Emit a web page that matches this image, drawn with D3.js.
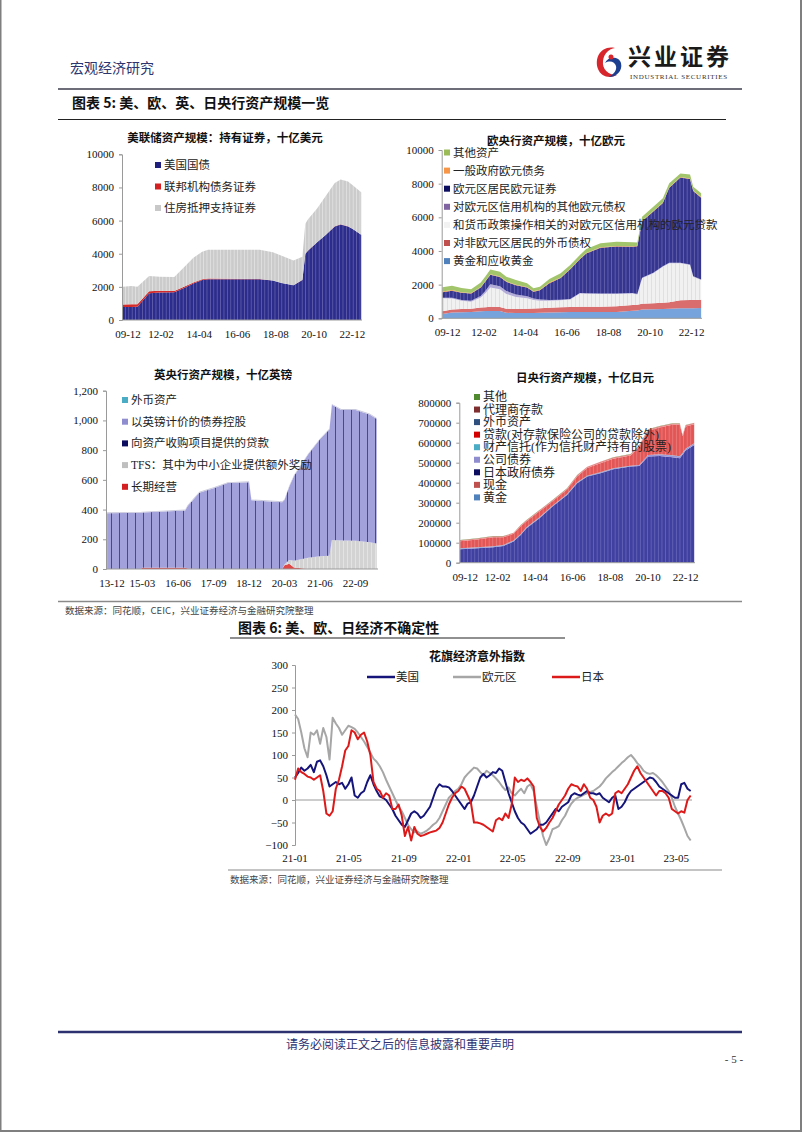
<!DOCTYPE html>
<html><head><meta charset="utf-8">
<script src="https://cdn.jsdelivr.net/npm/d3@7/dist/d3.min.js"></script>
<style>html,body{margin:0;padding:0;background:#fff;} svg{display:block;}</style>
</head><body>
<svg id="page" width="802" height="1133" xmlns="http://www.w3.org/2000/svg"></svg>
<script>
// ================= DATA =================
// --- Fed (billion USD) ---
const fedDates = ["2009-12","2010-06","2010-10","2011-06","2012-01","2012-11","2013-06","2013-12","2014-06","2014-10","2017-09","2018-06","2018-12","2019-08","2020-02","2020-04","2020-06","2020-12","2021-06","2021-12","2022-04","2022-09","2022-12","2023-06"];
const fedTreasury = [780,780,800,1620,1660,1670,1950,2210,2420,2460,2465,2380,2230,2090,2420,4000,4200,4690,5150,5650,5770,5650,5500,5150];
const fedAgency = [160,165,150,115,100,80,70,57,45,40,5,2,2,2,2,2,2,2,2,2,2,2,2,2];
const fedMBS = [1070,1110,1050,920,850,850,1200,1490,1650,1740,1770,1700,1640,1500,1400,1800,1900,2040,2340,2620,2710,2700,2640,2560];
const fedTicks = [0,2000,4000,6000,8000,10000];
const monthlyLabels = ["09-12","12-02","14-04","16-06","18-08","20-10","22-12"];

// --- ECB (billion EUR) ---
const ecbDates = ["2009-12","2010-06","2010-12","2011-06","2011-12","2012-03","2012-06","2012-12","2013-04","2013-10","2014-05","2014-09","2015-01","2015-07","2016-02","2016-08","2017-02","2017-06","2018-03","2019-01","2019-11","2020-02","2020-05","2020-12","2021-06","2021-10","2022-05","2022-11","2023-01","2023-06"];
const ecbGold = [250,340,360,380,420,430,440,430,330,310,320,320,330,340,360,370,380,380,370,380,450,460,520,540,560,570,590,590,600,610];
const ecbFx = [170,190,200,190,220,230,240,240,240,240,250,260,270,280,290,300,310,310,320,330,340,340,340,350,370,380,480,490,490,490];
const ecbLending = [770,650,480,420,600,850,1150,1050,880,720,620,500,450,430,420,440,790,770,760,730,680,620,1520,1780,2140,2320,2200,2090,1385,1180];
const ecbOtherClaims = [30,40,50,50,90,130,200,180,170,150,120,100,60,40,30,30,30,30,30,30,30,30,30,30,30,30,30,30,30,30];
const ecbSecurities = [330,420,430,430,500,560,560,560,550,540,520,400,550,1000,1300,1770,2000,2360,2710,2800,2750,2830,3350,3650,3750,4450,5060,5080,5060,4860];
const ecbGovDebt = [35,35,35,35,35,30,30,30,30,30,30,30,30,30,30,30,30,30,30,30,30,30,30,30,30,30,30,30,30,30];
const ecbOtherAssets = [265,255,250,220,260,270,280,280,275,290,220,170,190,220,240,230,220,240,235,250,235,200,250,250,250,240,220,240,225,230];
const ecbTicks = [0,2000,4000,6000,8000,10000];

// --- BoE (billion GBP) ---
const boeDates = ["2013-12","2015-02","2015-03","2016-09","2016-10","2017-03","2017-09","2018-03","2018-12","2019-01","2020-02","2020-03","2020-05","2020-07","2021-01","2021-06","2021-10","2021-11","2022-03","2022-09","2022-12","2023-03","2023-06"];
const boeLongTerm = [0,0,8,8,3,0,0,0,0,0,0,25,35,10,0,0,0,0,0,0,0,0,0];
const boeTFS = [0,0,0,0,0,0,0,0,0,0,0,5,25,45,75,85,90,195,192,190,185,180,172];
const boeAPFLoan = [0,0,0,0,0,0,0,0,0,0,0,0,0,0,0,0,0,0,0,0,0,0,0];
const boeBonds = [376,378,372,386,420,514,544,578,584,462,450,434,494,571,697,788,850,910,878,880,870,860,838];
const boeFx = [6,6,6,6,6,6,6,6,6,6,6,6,6,6,6,6,6,6,6,6,6,6,6];
const boeTicks = [0,200,400,600,800,1000,1200];
const boeLabels = ["13-12","15-03","16-06","17-09","18-12","20-03","21-06","22-09"];

// --- BoJ (billion JPY) ---
const bojDates = ["2009-12","2010-12","2011-11","2012-06","2013-01","2013-06","2013-10","2014-07","2015-04","2016-02","2016-09","2017-04","2018-01","2018-10","2019-10","2020-04","2020-10","2021-06","2022-03","2022-08","2022-10","2022-12","2023-06"];
const bojGold = [441,441,441,441,441,441,441,441,441,441,441,441,441,441,441,441,441,441,441,441,441,441,441];
const bojCash = [250,250,250,250,250,250,250,250,250,250,250,250,250,250,250,250,250,250,250,250,250,250,250];
const bojJGB = [67000,72000,77000,83000,105000,138000,172000,222000,280000,338000,397000,430000,447000,467000,480000,483000,530000,533000,527000,522000,540000,560000,588000];
const bojCorp = [3000,3200,3400,3500,3600,3300,3200,3200,3200,3200,3200,3200,3200,3200,3200,4500,7500,7500,8500,8500,8200,8000,7900];
const bojTrust = [1500,1400,1400,1400,1400,1400,1400,1300,1300,1200,1100,1000,1000,900,800,700,600,500,500,500,500,500,500];
const bojLoans = [35200,39100,44900,38800,33600,38500,29600,29600,21600,22400,29300,38200,45900,48000,50900,91600,120700,133700,152700,157700,83000,111200,95300];
const bojFx = [5000,5000,5000,5000,5100,5500,5500,5600,5600,5900,6100,6300,6600,6600,6800,6900,6900,7000,7000,7000,7000,7000,7000];
const bojAgency = [100,100,100,100,100,100,100,100,100,100,100,100,100,100,100,100,100,100,100,100,100,100,100];
const bojOther = [500,500,500,500,500,500,500,500,500,500,500,500,500,500,500,500,500,500,500,500,500,500,500];
const bojTicks = [0,100000,200000,300000,400000,500000,600000,700000,800000];

// --- Citi Economic Surprise Index (weekly from 2021-01-01) ---
const citiStart = "2021-01-01";
const citiUS = [50,60,72,65,70,78,62,85,88,75,55,30,35,40,35,38,25,35,50,10,5,15,20,40,55,35,20,8,5,0,-10,-20,-35,-45,-55,-60,-45,-30,-25,-30,-40,-35,-25,-15,5,25,35,30,30,28,20,10,0,-10,-20,-8,-5,10,30,50,58,50,55,62,60,70,65,40,15,-5,-25,-40,-50,-55,-65,-75,-70,-65,-55,-55,-50,-40,-30,-20,-25,-15,-10,-5,10,15,12,10,15,20,15,15,12,15,5,0,-5,5,10,-20,-15,-5,10,20,25,30,35,40,45,50,48,40,30,25,20,15,10,5,5,35,38,25,20];
const citiEU = [190,180,150,115,95,150,145,155,125,160,140,90,183,170,160,145,155,165,162,158,150,140,130,118,105,92,85,75,62,45,30,15,0,-15,-25,-40,-55,-65,-72,-70,-75,-72,-68,-62,-55,-50,-40,-25,-10,5,12,20,25,35,50,58,65,72,70,62,55,65,60,55,48,40,30,22,28,15,10,18,25,15,30,35,20,-15,-50,-80,-100,-85,-65,-62,-58,-45,-35,-20,-8,0,5,8,12,15,18,20,25,30,38,48,55,62,68,75,82,88,95,100,92,82,75,65,60,58,60,55,48,40,30,20,5,-15,-30,-45,-62,-80,-90];
const citiJP = [45,70,62,58,52,50,45,50,55,20,-30,-35,-25,25,45,75,110,120,155,150,135,145,150,130,100,40,25,20,5,15,10,-20,-20,-10,-35,-80,-60,-90,-60,-75,-80,-78,-75,-72,-70,-68,-62,-50,-30,-10,5,15,20,30,25,10,-5,-50,-50,-52,-55,-60,-65,-70,-45,-40,-45,-30,-40,-10,50,40,45,42,48,40,30,-40,-60,-70,-62,-50,-40,-25,-10,0,10,25,35,32,30,20,35,25,5,0,-15,-50,-35,-30,-35,-30,15,20,15,25,35,50,65,75,60,50,40,30,20,10,20,20,15,5,-20,-25,-30,-25,-28,0,10];
const citiTicks = [-100,-50,0,50,100,150,200,250,300];
const citiLabels = ["21-01","21-05","21-09","22-01","22-05","22-09","23-01","23-05"];

// ================= RENDER =================
const LAT = "'Liberation Serif','Times New Roman','Noto Sans CJK SC',serif";
const CJK = "'Noto Sans CJK SC','Noto Sans CJK JP',sans-serif";
const svg = d3.select("#page");
const defs = svg.append("defs");
const parseMid = s => d3.timeParse("%Y-%m-%d")(s + "-15");
const parseDay = d3.timeParse("%Y-%m-%d");

function pattern(id, base, line, spacing, w, op) {
  const p = defs.append("pattern").attr("id", id).attr("patternUnits", "userSpaceOnUse")
    .attr("width", spacing).attr("height", 20);
  p.append("rect").attr("width", spacing).attr("height", 20).attr("fill", base);
  if (line) p.append("rect").attr("x", spacing - w).attr("width", w).attr("height", 20).attr("fill", line).attr("opacity", op);
  return `url(#${id})`;
}

function stackChart(c) {
  const g = svg.append("g");
  const x = d3.scaleTime().domain([parseDay(c.domain[0]), parseDay(c.domain[1])]).range([c.x0, c.x1]);
  const y = d3.scaleLinear().domain([0, c.yMax]).range([c.y0, c.y1]);
  const rows = c.dates.map((d, i) => {
    const o = { date: parseMid(d) };
    c.series.forEach(s => o[s.key] = s.values[i]);
    return o;
  });
  const stacked = d3.stack().keys(c.series.map(s => s.key))(rows);
  const area = d3.area().x(d => x(d.data.date)).y0(d => y(d[0])).y1(d => y(d[1]));
  g.selectAll("path.layer").data(stacked).join("path")
    .attr("class", "layer")
    .attr("d", area)
    .attr("fill", (d, i) => c.series[i].fill)
    .attr("stroke", "none");
  const ya = g.append("g").attr("transform", `translate(${c.x0},0)`)
    .call(d3.axisLeft(y).tickValues(c.ticks).tickSize(3).tickPadding(5).tickFormat(c.fmt));
  ya.select(".domain").attr("stroke", "#9a9a9a");
  ya.selectAll(".tick line").attr("stroke", "#9a9a9a");
  ya.selectAll("text").attr("font-family", LAT).attr("font-size", c.tickSize || 11).attr("fill", "#111");
  g.append("line").attr("x1", c.x0).attr("x2", c.x1).attr("y1", c.y0).attr("y2", c.y0).attr("stroke", "#9a9a9a");
  g.selectAll("text.xl").data(c.labels).join("text").attr("class", "xl")
    .attr("x", d => Math.max(x(parseMid("20" + d)), c.x0 + 6))
    .attr("y", c.y0 + 18)
    .attr("text-anchor", "middle").attr("font-family", LAT).attr("font-size", c.tickSize || 11).attr("fill", "#111")
    .text(d => d);
  g.append("text").attr("x", c.titleX).attr("y", c.titleY).attr("text-anchor", "middle")
    .attr("font-family", CJK).attr("font-weight", "bold").attr("font-size", 11.5).attr("fill", "#111").text(c.title);
  const lg = g.append("g");
  c.legend.forEach((L, i) => {
    const yy = c.legY + i * c.legDy;
    lg.append("rect").attr("x", c.legX).attr("y", yy - 3).attr("width", 6).attr("height", 6).attr("fill", L.color);
    lg.append("text").attr("x", c.legX + 9).attr("y", yy).attr("dy", "0.35em")
      .attr("font-family", LAT).attr("font-size", c.legSize || 11).attr("fill", "#222").text(L.name);
  });
}

// --- Page frame & header ---
svg.append("rect").attr("x", 0.5).attr("y", -2).attr("width", 800.5).attr("height", 1133).attr("fill", "none").attr("stroke", "#7f7f7f").attr("stroke-width", 2);
svg.append("text").attr("x", 70).attr("y", 73).attr("font-family", CJK).attr("font-size", 14).attr("fill", "#2b3670").text("宏观经济研究");
// logo
svg.append("path").attr("d", "M615,48 C601,45 594,58 598,69 C601,77 610,79 617,75 C608,75 602,69 603,61 C604,53 609,49 615,48 Z").attr("fill", "#d7262c");
svg.append("path").attr("d", "M605,63 C608,56 619,56 621,63 C623,71 616,77 609,77 C614,74 617,70 616,66 C615,62 610,60 605,63 Z").attr("fill", "#1d3f8f");
svg.append("circle").attr("cx", 611).attr("cy", 57).attr("r", 2.5).attr("fill", "#d7262c");
svg.append("text").attr("x", 628).attr("y", 65).attr("font-family", CJK).attr("font-weight", "bold").attr("font-size", 23).attr("letter-spacing", 3).attr("fill", "#1a1a1a").text("兴业证券");
svg.append("text").attr("x", 630).attr("y", 79).attr("font-family", LAT).attr("font-size", 7).attr("letter-spacing", 0.7).attr("fill", "#333").text("INDUSTRIAL SECURITIES");
svg.append("line").attr("x1", 58).attr("x2", 742).attr("y1", 89).attr("y2", 89).attr("stroke", "#3c3c4c").attr("stroke-width", 1.3);
svg.append("text").attr("x", 72).attr("y", 108).attr("font-family", CJK).attr("font-weight", "bold").attr("font-size", 14).attr("fill", "#111").text("图表 5: 美、欧、英、日央行资产规模一览");
svg.append("line").attr("x1", 58).attr("x2", 726).attr("y1", 119.5).attr("y2", 119.5).attr("stroke", "#222").attr("stroke-width", 1.2);

// --- Fed ---
stackChart({
  dates: fedDates, x0: 122, x1: 362, y0: 320, y1: 154.3, yMax: 10000, ticks: fedTicks, fmt: d3.format("d"),
  domain: ["2009-12-01", "2023-07-01"], labels: monthlyLabels,
  series: [
    { key: "t", values: fedTreasury, fill: pattern("pFedT", "#2c2c8c", "#c9c9ea", 3.4, 0.6, 0.45) },
    { key: "a", values: fedAgency, fill: "#d42a2a" },
    { key: "m", values: fedMBS, fill: pattern("pFedM", "#cbcbcb", "#ffffff", 3.4, 0.6, 0.6) }
  ],
  title: "美联储资产规模：持有证券，十亿美元", titleX: 225, titleY: 142,
  legend: [{ name: "美国国债", color: "#1f1f80" }, { name: "联邦机构债务证券", color: "#d42020" }, { name: "住房抵押支持证券", color: "#c8c8c8" }],
  legX: 155, legY: 165, legDy: 21.5, legSize: 11.5
});

// --- ECB ---
stackChart({
  dates: ecbDates, x0: 441.7, x1: 702, y0: 318.3, y1: 150, yMax: 10000, ticks: ecbTicks, fmt: d3.format("d"),
  domain: ["2009-12-01", "2023-07-01"], labels: monthlyLabels,
  series: [
    { key: "gold", values: ecbGold, fill: "#76a3dc" },
    { key: "fx", values: ecbFx, fill: "#d96c6c" },
    { key: "lend", values: ecbLending, fill: pattern("pEcbL", "#f1f1f1", "#d6d6d6", 4, 0.6, 1) },
    { key: "oc", values: ecbOtherClaims, fill: "#b3acd9" },
    { key: "sec", values: ecbSecurities, fill: pattern("pEcbS", "#35358f", "#b9b9e4", 3.6, 0.6, 0.5) },
    { key: "gov", values: ecbGovDebt, fill: "#f79646" },
    { key: "oth", values: ecbOtherAssets, fill: "#a2c46a" }
  ],
  title: "欧央行资产规模，十亿欧元", titleX: 556, titleY: 145,
  legend: [
    { name: "其他资产", color: "#9bbb59" }, { name: "一般政府欧元债务", color: "#f79646" },
    { name: "欧元区居民欧元证券", color: "#0d0d60" }, { name: "对欧元区信用机构的其他欧元债权", color: "#8064a2" },
    { name: "和货币政策操作相关的对欧元区信用机构的欧元贷款", color: "#f2f2f2" },
    { name: "对非欧元区居民的外币债权", color: "#c0504d" }, { name: "黄金和应收黄金", color: "#4f81bd" }
  ],
  legX: 444, legY: 152.5, legDy: 18.1, legSize: 11.5
});

// --- BoE ---
stackChart({
  dates: boeDates, x0: 106, x1: 378, y0: 569, y1: 390.7, yMax: 1200, ticks: boeTicks, fmt: d3.format(","),
  domain: ["2013-12-01", "2023-07-01"], labels: boeLabels,
  series: [
    { key: "lt", values: boeLongTerm, fill: "#e04848" },
    { key: "tfs", values: boeTFS, fill: pattern("pBoeT", "#d3d3d3", "#ffffff", 4, 0.6, 0.6) },
    { key: "apf", values: boeAPFLoan, fill: "#12125e" },
    { key: "bonds", values: boeBonds, fill: pattern("pBoeB", "#a3a1db", "#1c1c6a", 8, 0.8, 0.85) },
    { key: "fx", values: boeFx, fill: "#c9c9dd" }
  ],
  title: "英央行资产规模，十亿英镑", titleX: 223, titleY: 379,
  legend: [
    { name: "外币资产", color: "#4bacc6" }, { name: "以英镑计价的债券控股", color: "#8f8cd0" },
    { name: "向资产收购项目提供的贷款", color: "#0d0d60" }, { name: "TFS：其中为中小企业提供额外奖励", color: "#bfbfbf" },
    { name: "长期经营", color: "#d42020" }
  ],
  legX: 122, legY: 400, legDy: 21.7, legSize: 11.5
});

// --- BoJ ---
stackChart({
  dates: bojDates, x0: 459.3, x1: 695, y0: 562.7, y1: 402.7, yMax: 800000, ticks: bojTicks, fmt: d3.format("d"),
  domain: ["2009-12-01", "2023-07-01"], labels: monthlyLabels,
  series: [
    { key: "gold", values: bojGold, fill: "#4f81bd" },
    { key: "cash", values: bojCash, fill: "#c0504d" },
    { key: "jgb", values: bojJGB, fill: pattern("pBojJ", "#4040a0", "#a8a8dc", 3.6, 0.6, 0.5) },
    { key: "corp", values: bojCorp, fill: "#9d98d8" },
    { key: "trust", values: bojTrust, fill: "#4bacc6" },
    { key: "loans", values: bojLoans, fill: pattern("pBojL", "#e25656", "#f4a2a2", 3.6, 0.6, 0.7) },
    { key: "fx", values: bojFx, fill: "#e68a8a" },
    { key: "agency", values: bojAgency, fill: "#953735" },
    { key: "other", values: bojOther, fill: "#4f8a2f" }
  ],
  title: "日央行资产规模，十亿日元", titleX: 585, titleY: 382,
  legend: [
    { name: "其他", color: "#4f8a2f" }, { name: "代理商存款", color: "#7f2f2f" }, { name: "外币资产", color: "#2f4f7f" },
    { name: "贷款(对存款保险公司的贷款除外)", color: "#d40000" }, { name: "财产信托(作为信托财产持有的股票)", color: "#4bacc6" },
    { name: "公司债券", color: "#8f8cd0" }, { name: "日本政府债券", color: "#0d0d60" }, { name: "现金", color: "#c0504d" },
    { name: "黄金", color: "#4f81bd" }
  ],
  legX: 474, legY: 397, legDy: 12.55, legSize: 12
});

// --- Source line 1 & Figure 6 title ---
svg.append("line").attr("x1", 58).attr("x2", 742).attr("y1", 601.5).attr("y2", 601.5).attr("stroke", "#8a8a8a").attr("stroke-width", 1.6);
svg.append("text").attr("x", 65).attr("y", 613.5).attr("font-family", CJK).attr("font-size", 9.5).attr("fill", "#444").text("数据来源：同花顺，CEIC，兴业证券经济与金融研究院整理");
svg.append("text").attr("x", 238).attr("y", 633).attr("font-family", CJK).attr("font-weight", "bold").attr("font-size", 14).attr("fill", "#111").text("图表 6: 美、欧、日经济不确定性");
svg.append("line").attr("x1", 230).attr("x2", 565).attr("y1", 638).attr("y2", 638).attr("stroke", "#222").attr("stroke-width", 1.2);

// --- Citi surprise index ---
(function () {
  const g = svg.append("g");
  const x = d3.scaleTime().domain([parseDay("2021-01-01"), parseDay("2023-06-05")]).range([295, 692]);
  const y = d3.scaleLinear().domain([-100, 300]).range([845, 665]);
  const start = parseDay(citiStart);
  const dates = citiUS.map((_, i) => d3.timeDay.offset(start, 7 * i));
  g.append("line").attr("x1", 295).attr("x2", 692).attr("y1", y(0)).attr("y2", y(0)).attr("stroke", "#9a9a9a").attr("stroke-width", 1);
  const ya = g.append("g").attr("transform", "translate(295,0)")
    .call(d3.axisLeft(y).tickValues(citiTicks).tickSize(3).tickPadding(4).tickFormat(d3.format("d")));
  ya.select(".domain").attr("stroke", "#9a9a9a");
  ya.selectAll(".tick line").attr("stroke", "#9a9a9a");
  ya.selectAll("text").attr("font-family", LAT).attr("font-size", 11).attr("fill", "#111");
  g.selectAll("text.xl").data(citiLabels).join("text").attr("class", "xl")
    .attr("x", d => x(parseDay("20" + d + "-01"))).attr("y", 862)
    .attr("text-anchor", "middle").attr("font-family", LAT).attr("font-size", 11).attr("fill", "#111").text(d => d);
  const line = d3.line().x((d, i) => x(dates[i])).y(d => y(d));
  const ser = [
    { name: "欧元区", vals: citiEU, color: "#a6a6a6" },
    { name: "美国", vals: citiUS, color: "#14147a" },
    { name: "日本", vals: citiJP, color: "#dd1a1a" }
  ];
  ser.forEach(s => g.append("path").attr("d", line(s.vals)).attr("fill", "none").attr("stroke", s.color).attr("stroke-width", 2).attr("stroke-linejoin", "round"));
  g.append("text").attr("x", 477).attr("y", 661).attr("text-anchor", "middle").attr("font-family", CJK).attr("font-weight", "bold").attr("font-size", 12).attr("fill", "#111").text("花旗经济意外指数");
  const leg = [
    { name: "美国", color: "#14147a", x: 367 },
    { name: "欧元区", color: "#a6a6a6", x: 453 },
    { name: "日本", color: "#dd1a1a", x: 552 }
  ];
  leg.forEach(L => {
    g.append("line").attr("x1", L.x).attr("x2", L.x + 28).attr("y1", 677).attr("y2", 677).attr("stroke", L.color).attr("stroke-width", 2.5);
    g.append("text").attr("x", L.x + 29).attr("y", 677).attr("dy", "0.35em").attr("font-family", LAT).attr("font-size", 11.5).attr("fill", "#222").text(L.name);
  });
})();

// --- Source line 2 ---
svg.append("line").attr("x1", 228).attr("x2", 722).attr("y1", 870).attr("y2", 870).attr("stroke", "#8a8a8a").attr("stroke-width", 1.2);
svg.append("text").attr("x", 230).attr("y", 883).attr("font-family", CJK).attr("font-size", 9.5).attr("fill", "#444").text("数据来源：同花顺，兴业证券经济与金融研究院整理");

// --- Footer ---
svg.append("line").attr("x1", 58).attr("x2", 742).attr("y1", 1032).attr("y2", 1032).attr("stroke", "#2e3170").attr("stroke-width", 2.5);
svg.append("text").attr("x", 400).attr("y", 1049).attr("text-anchor", "middle").attr("font-family", CJK).attr("font-size", 12).attr("fill", "#2e3170").text("请务必阅读正文之后的信息披露和重要声明");
svg.append("text").attr("x", 734).attr("y", 1063).attr("text-anchor", "middle").attr("font-family", LAT).attr("font-size", 11).attr("fill", "#333").text("- 5 -");
</script>
</body></html>
